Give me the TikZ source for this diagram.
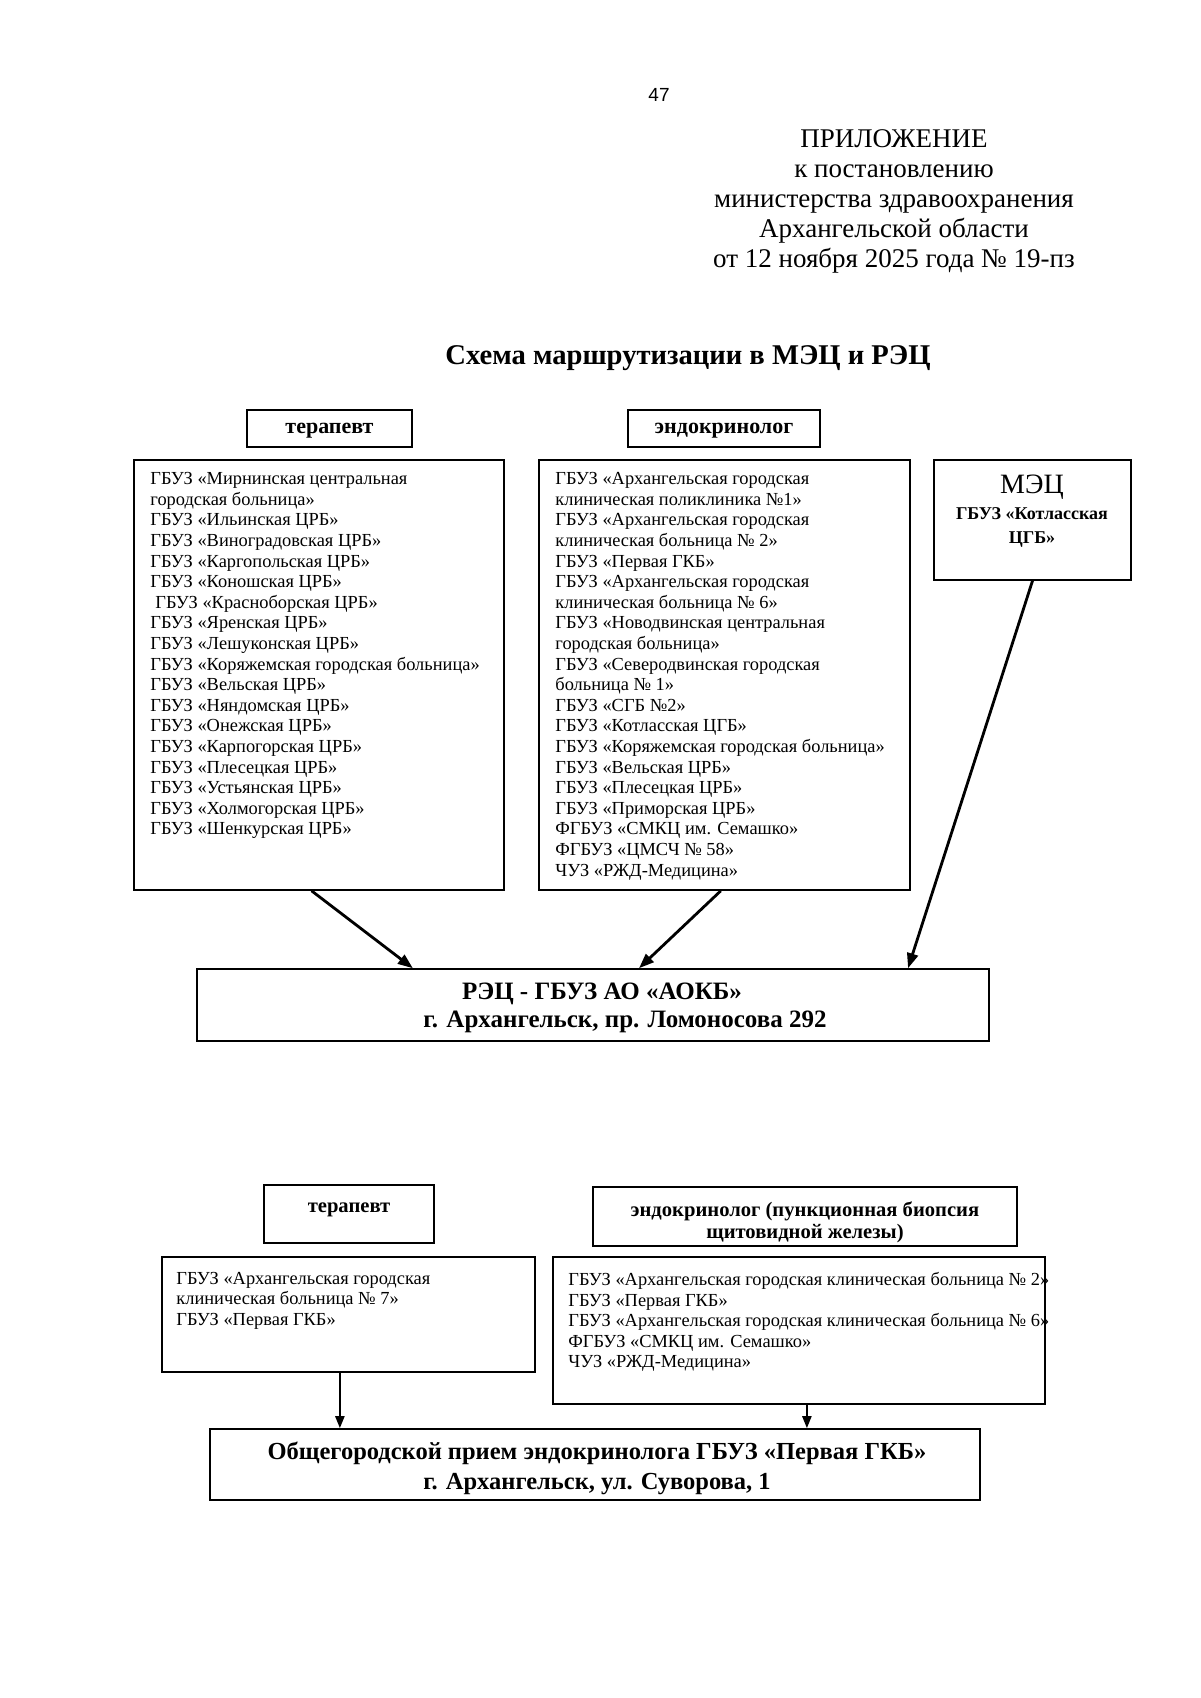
\documentclass[tikz,border=0pt]{standalone}
\usepackage{fontspec}
\setmainfont{Liberation Serif}
\newfontfamily\numfont{Liberation Sans}
\usetikzlibrary{arrows.meta, positioning, calc}

\begin{document}
\begin{tikzpicture}[
    x=0.5pt, y=-0.5pt,
    box/.style={rectangle, draw=black, line width=0.8pt, inner sep=0pt},
    hdr/.style={box, font=\bfseries\fontsize{11}{13}\selectfont, align=center},
    listtext/.style={anchor=north west, inner sep=0pt, align=left},
    target/.style={box, font=\bfseries\fontsize{12.5}{14}\selectfont, align=center},
    arrow/.style={line width=1.4pt, -{Triangle[length=7.5pt,width=5.5pt]}},
    thinarrow/.style={line width=1.1pt, -{Triangle[length=6pt,width=4.5pt]}}
]
\useasboundingbox (0,0) rectangle (1200,1698);

% Page number and heading
\node[font=\numfont\fontsize{9.5}{10}\selectfont] (pagenum) at (659,95) {47};
\node[align=center, font=\fontsize{13.5}{15}\selectfont] (appendix) at (894,201) {ПРИЛОЖЕНИЕ\\к постановлению\\министерства здравоохранения\\Архангельской области\\от 12 ноября 2025 года № 19-пз};
\node[font=\bfseries\fontsize{14.3}{17}\selectfont] (title) at (688,358) {Схема маршрутизации в МЭЦ и РЭЦ};

% Upper scheme: headers
\node[hdr, minimum width=82.5pt, minimum height=18.5pt, text depth=0pt] (ther) at (329.5,428.5) {терапевт};
\node[hdr, minimum width=96pt, minimum height=18.5pt, text depth=0pt] (endo) at (724,428.5) {эндокринолог};

% Upper scheme: lists
\node[box, minimum width=185pt, minimum height=215pt] (therlist) at (319,675) {};
\node[listtext, font=\fontsize{9.2}{10.3}\selectfont] (thertext) at (150,472) {ГБУЗ «Мирнинская центральная\\городская больница»\\ГБУЗ «Ильинская ЦРБ»\\ГБУЗ «Виноградовская ЦРБ»\\ГБУЗ «Каргопольская ЦРБ»\\ГБУЗ «Коношская ЦРБ»\\\hspace*{2.5pt}ГБУЗ «Красноборская ЦРБ»\\ГБУЗ «Яренская ЦРБ»\\ГБУЗ «Лешуконская ЦРБ»\\ГБУЗ «Коряжемская городская больница»\\ГБУЗ «Вельская ЦРБ»\\ГБУЗ «Няндомская ЦРБ»\\ГБУЗ «Онежская ЦРБ»\\ГБУЗ «Карпогорская ЦРБ»\\ГБУЗ «Плесецкая ЦРБ»\\ГБУЗ «Устьянская ЦРБ»\\ГБУЗ «Холмогорская ЦРБ»\\ГБУЗ «Шенкурская ЦРБ»};

\node[box, minimum width=185.5pt, minimum height=215pt] (endolist) at (724.5,675) {};
\node[listtext, font=\fontsize{9.2}{10.3}\selectfont] (endotext) at (555,472) {ГБУЗ «Архангельская городская\\клиническая поликлиника №1»\\ГБУЗ «Архангельская городская\\клиническая больница № 2»\\ГБУЗ «Первая ГКБ»\\ГБУЗ «Архангельская городская\\клиническая больница № 6»\\ГБУЗ «Новодвинская центральная\\городская больница»\\ГБУЗ «Северодвинская городская\\больница № 1»\\ГБУЗ «СГБ №2»\\ГБУЗ «Котласская ЦГБ»\\ГБУЗ «Коряжемская городская больница»\\ГБУЗ «Вельская ЦРБ»\\ГБУЗ «Плесецкая ЦРБ»\\ГБУЗ «Приморская ЦРБ»\\ФГБУЗ «СМКЦ им. Семашко»\\ФГБУЗ «ЦМСЧ № 58»\\ЧУЗ «РЖД-Медицина»};

% MEC
\node[box, minimum width=98.5pt, minimum height=60pt] (mec) at (1032.5,520) {};
\node[align=center, inner sep=0pt] (mectext) at (1032,511) {{\fontsize{14}{16}\selectfont МЭЦ}\\[1pt]{\bfseries\fontsize{9}{10.5}\selectfont ГБУЗ «Котласская}\\{\bfseries\fontsize{9}{10.5}\selectfont ЦГБ»}};

% REC
\node[box, minimum width=396pt, minimum height=36pt] (rec) at (593,1005) {};
\node[align=center, font=\bfseries\fontsize{12.5}{14}\selectfont] (rectext) at (602,1008) {РЭЦ - ГБУЗ АО «АОКБ»\\\hspace*{23pt}г. Архангельск, пр. Ломоносова 292};

\draw[arrow] ($(therlist.south west)!0.48!(therlist.south east)$) -- ($(rec.north west)!0.273!(rec.north east)$);
\draw[arrow] ($(endolist.south west)!0.49!(endolist.south east)$) -- ($(rec.north west)!0.558!(rec.north east)$);
\draw[arrow] (mec.south) -- ($(rec.north west)!0.897!(rec.north east)$);

% Lower scheme: headers
\node[box, minimum width=85pt, minimum height=29pt] (ther2) at (349,1214) {};
\node[font=\bfseries\fontsize{10.3}{11}\selectfont] (ther2text) at (349,1210) {терапевт};
\node[box, minimum width=212pt, minimum height=29.5pt] (endo2) at (805,1216.5) {};
\node[align=center, font=\bfseries\fontsize{10.3}{11}\selectfont] (endo2text) at (805,1222) {эндокринолог (пункционная биопсия\\щитовидной железы)};

% Lower scheme: lists
\node[box, minimum width=186.5pt, minimum height=57.5pt] (therlist2) at (348.5,1314.5) {};
\node[listtext, font=\fontsize{9.2}{10.1}\selectfont] (ther2list) at (176,1272) {ГБУЗ «Архангельская городская\\клиническая больница № 7»\\ГБУЗ «Первая ГКБ»};

\node[box, minimum width=246pt, minimum height=73.5pt] (endolist2) at (799,1330.5) {};
\node[listtext, font=\fontsize{9.2}{10.3}\selectfont] (endo2list) at (568,1272) {ГБУЗ «Архангельская городская клиническая больница № 2»\\ГБУЗ «Первая ГКБ»\\ГБУЗ «Архангельская городская клиническая больница № 6»\\ФГБУЗ «СМКЦ им. Семашко»\\ЧУЗ «РЖД-Медицина»};

% City reception
\node[box, minimum width=385pt, minimum height=35.5pt] (city) at (595,1464.5) {};
\node[align=center, font=\bfseries\fontsize{12.25}{15}\selectfont] (citytext) at (597,1468) {Общегородской прием эндокринолога ГБУЗ «Первая ГКБ»\\г. Архангельск, ул. Суворова, 1};

\coordinate (therout) at ($(therlist2.south west)!0.477!(therlist2.south east)$);
\coordinate (endoout) at ($(endolist2.south west)!0.516!(endolist2.south east)$);
\draw[thinarrow] (therout) -- (therout |- city.north);
\draw[thinarrow] (endoout) -- (endoout |- city.north);

\end{tikzpicture}
\end{document}
